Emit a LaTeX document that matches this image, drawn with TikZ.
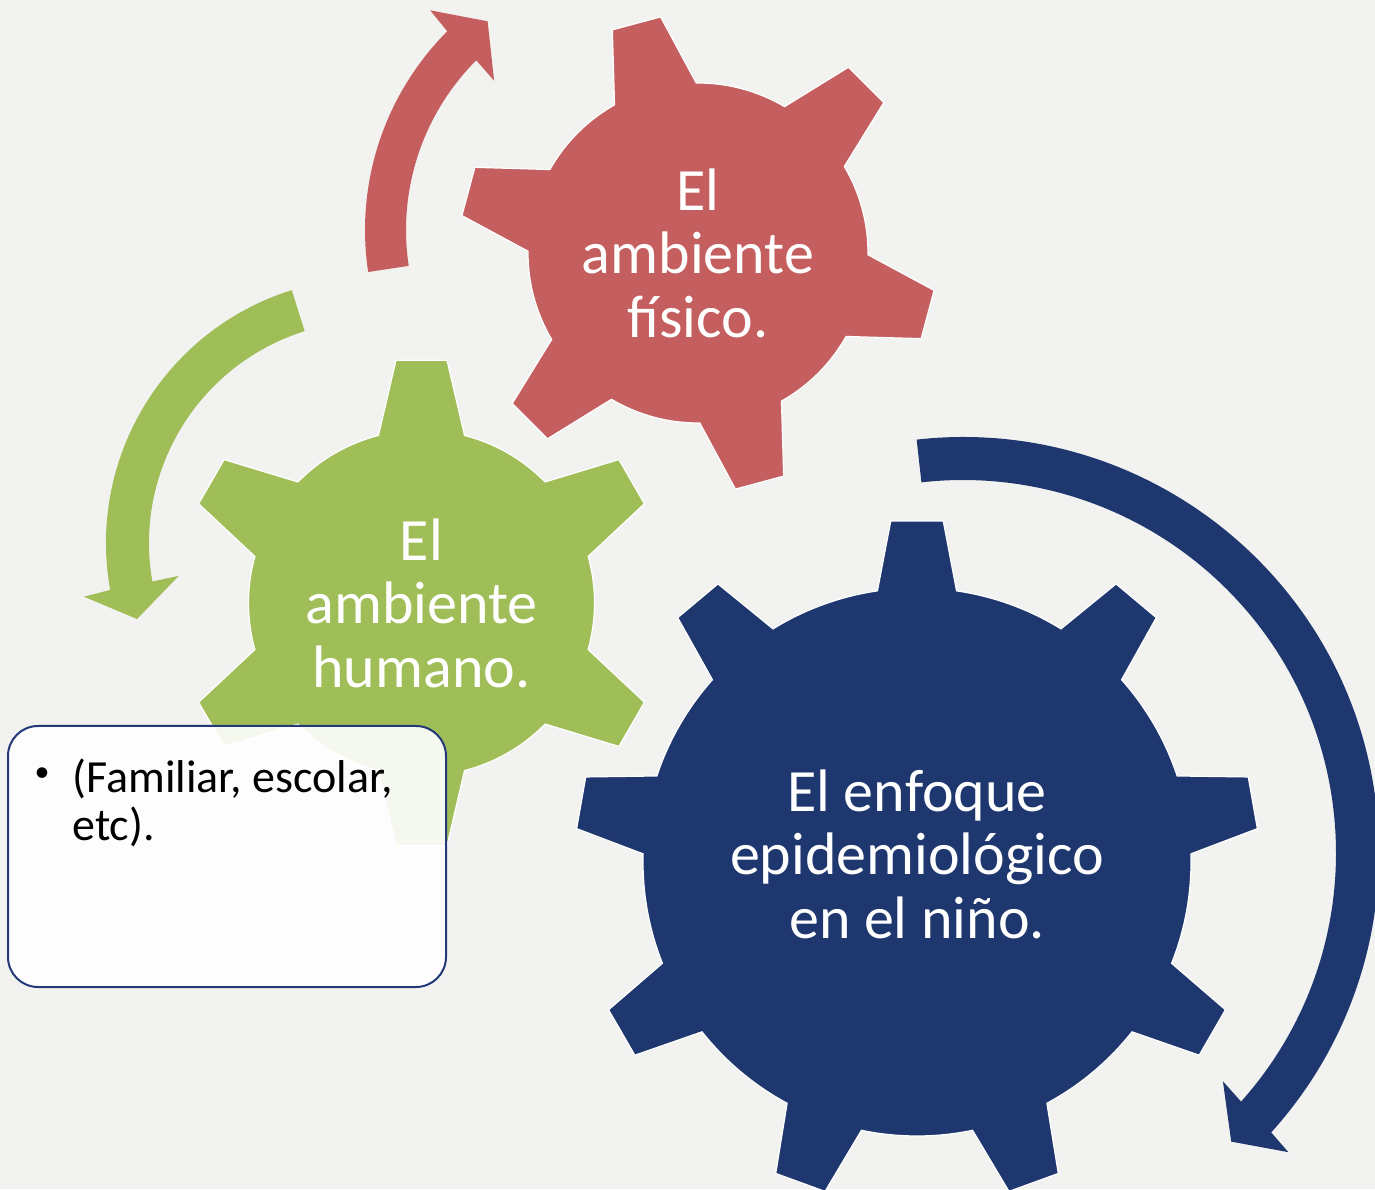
\documentclass[tikz,border=0pt]{standalone}
\usepackage{fontspec}
\setmainfont{Carlito}
\usetikzlibrary{positioning}
\definecolor{fondo}{RGB}{242,242,240}
\definecolor{rojo}{RGB}{197,94,94}
\definecolor{verde}{RGB}{160,190,87}
\definecolor{azul}{RGB}{30,55,110}
\definecolor{borde}{RGB}{36,58,120}
\begin{document}
\begin{tikzpicture}[x=0.5pt,y=0.5pt,
  rueda/.style={draw=white,line width=0.6pt},
  geartext/.style={text=white,align=center,inner sep=0pt,font=\fontsize{30}{31.75}\selectfont},
  caja/.style={draw=borde,line width=1pt,rounded corners=15pt,fill=white,fill opacity=0.9,minimum width=219pt,minimum height=130.5pt,inner sep=0pt},
  nota/.style={align=left,inner sep=0pt,font=\fontsize{23}{24}\selectfont}]
\path[use as bounding box,fill=fondo] (0,0) rectangle (1375,1189);
\coordinate (cf) at (698,936);
\coordinate (ch) at (421.5,586);
\coordinate (ce) at (917,327);
\coordinate (af) at (646,959);
\coordinate (ah) at (371,646);
\coordinate (ae) at (963,336);

\begin{scope}[shift={(cf)},rotate=15]
  \filldraw[rueda,fill=rojo] ({90-14.4}:170)
    \foreach \a in {90,150,...,420} { -- ({\a-14.4}:170) -- ({\a-6}:239) -- ({\a+6}:239) -- ({\a+14.4}:170)
    arc[start angle=\a+14.4,end angle=\a+45.6,radius=170] } -- cycle;
\end{scope}
\begin{scope}[shift={(ch)}]
  \filldraw[rueda,fill=verde] ({90-14.4}:173)
    \foreach \a in {90,150,...,420} { -- ({\a-14.4}:173) -- ({\a-6}:244) -- ({\a+6}:244) -- ({\a+14.4}:173)
    arc[start angle=\a+14.4,end angle=\a+45.6,radius=173] } -- cycle;
\end{scope}
\begin{scope}[shift={(ce)}]
  \filldraw[rueda,fill=azul] ({90-8.3}:274)
    \foreach \a in {90,130,...,410} { -- ({\a-8.3}:274) -- ({\a-4.4}:342) -- ({\a+4.4}:342) -- ({\a+8.3}:274)
    arc[start angle=\a+8.3,end angle=\a+31.7,radius=274] } -- cycle;
\end{scope}

\begin{scope}[shift={(af)}]
  \fill[rojo] (188.6:281) arc[start angle=188.6,end angle=135,radius=281] -- (134.5:308) -- (127.2:262)
    -- (135.5:213) -- (135:240) arc[start angle=135,end angle=188.6,radius=240] -- cycle;
\end{scope}
\begin{scope}[shift={(ah)}]
  \fill[verde] (107.4:265) arc[start angle=107.4,end angle=190.2,radius=265] -- (190.6:292) -- (198:246)
    -- (189.7:195) -- (190:222) arc[start angle=190,end angle=107.4,radius=222] -- cycle;
\end{scope}
\begin{scope}[shift={(ae)}]
  \fill[azul] (96.4:416) arc[start angle=96.4,end angle=-42.2,radius=416] -- (-42.6:442) -- (-47.1:394)
    -- (-41.3:346) -- (-41.8:373) arc[start angle=-41.8,end angle=96.4,radius=373] -- cycle;
\end{scope}

\node[geartext] (fisico) at (cf) {El\\ambiente\\físico.};
\node[geartext] (humano) at (ch) {El\\ambiente\\humano.};
\node[geartext,yshift=4pt] (enfoque) at (ce) {El enfoque\\epidemiológico\\en el niño.};

\node[caja] (caja1) at (227,332.5) {};
\node[nota,anchor=north west] (detalle) at (72,431) {(Familiar, escolar,\\etc).};
\node[inner sep=0pt,font=\fontsize{15}{15}\selectfont] (punto) at (42,414) {\textbullet};
\end{tikzpicture}
\end{document}
